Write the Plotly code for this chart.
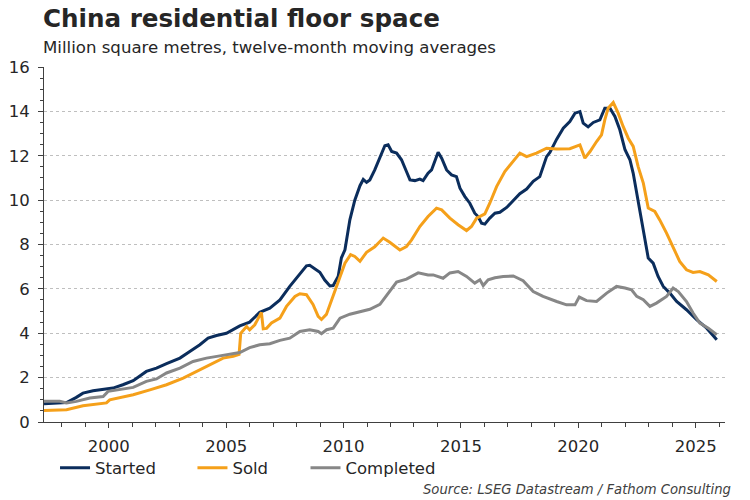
import plotly.graph_objects as go

# ---- data ----
started_x = [1997.24, 1997.7, 1998.2, 1998.6, 1998.9, 1999.33, 1999.9, 2000.18, 2000.6, 2001.04,
             2001.6, 2002.03, 2002.46, 2003.03, 2003.45, 2003.88, 2004.23, 2004.59, 2005.01, 2005.3,
             2005.58, 2006.0, 2006.43, 2006.86, 2007.29, 2007.71, 2008.14, 2008.42, 2008.56, 2008.7,
             2008.99, 2009.2, 2009.42, 2009.56, 2009.77, 2009.91, 2010.06, 2010.27, 2010.48, 2010.7,
             2010.84, 2010.98, 2011.12, 2011.33, 2011.55, 2011.76, 2011.9, 2012.05, 2012.26, 2012.47,
             2012.68, 2012.83, 2013.04, 2013.25, 2013.39, 2013.6, 2013.75, 2013.89, 2014.03, 2014.18,
             2014.39, 2014.6, 2014.81, 2014.96, 2015.17, 2015.38, 2015.59, 2015.73, 2015.88, 2016.02,
             2016.23, 2016.45, 2016.66, 2016.95, 2017.23, 2017.51, 2017.8, 2018.08, 2018.36, 2018.65,
             2018.79, 2019.08, 2019.36, 2019.64, 2019.86, 2020.07, 2020.21, 2020.42, 2020.64, 2020.92,
             2021.13, 2021.35, 2021.56, 2021.77, 2021.99, 2022.2, 2022.34, 2022.49, 2022.62, 2022.77,
             2022.98, 2023.19, 2023.4, 2023.62, 2023.9, 2024.19, 2024.61, 2025.04, 2025.47, 2025.9]
started_y = [0.82, 0.84, 0.88, 1.1, 1.3, 1.41, 1.49, 1.53, 1.68, 1.86,
             2.28, 2.43, 2.63, 2.88, 3.18, 3.48, 3.78, 3.9, 4.0, 4.15,
             4.33, 4.5, 4.94, 5.13, 5.5, 6.11, 6.7, 7.04, 7.06, 6.96,
             6.75, 6.4, 6.13, 6.15, 6.56, 7.4, 7.76, 9.11, 10.0, 10.65,
             10.93, 10.8, 10.91, 11.36, 11.96, 12.45, 12.49, 12.19, 12.12, 11.82,
             11.29, 10.91, 10.88, 10.95, 10.88, 11.21, 11.36, 11.74, 12.16, 11.89,
             11.36, 11.14, 11.06, 10.54, 10.16, 9.86, 9.41, 9.26, 8.96, 8.92,
             9.19, 9.41, 9.45, 9.67, 10.0, 10.29, 10.5, 10.85, 11.06, 11.96,
             12.15, 12.75, 13.24, 13.54, 13.92, 13.99, 13.47, 13.3, 13.5, 13.62,
             14.14, 14.14, 13.77, 13.17, 12.27, 11.82, 11.21, 10.31, 9.41, 8.51,
             7.39, 7.16, 6.56, 6.11, 5.81, 5.43, 5.06, 4.61, 4.23, 3.71]

sold_x = [1997.24, 1997.8, 1998.2, 1998.9, 1999.6, 1999.9, 2000.04, 2001.04, 2001.75, 2002.46,
          2003.17, 2003.88, 2004.44, 2004.87, 2005.3, 2005.55, 2005.62, 2005.87, 2006.0, 2006.22,
          2006.5, 2006.58, 2006.72, 2006.93, 2007.29, 2007.57, 2007.93, 2008.14, 2008.42, 2008.7,
          2008.92, 2009.06, 2009.27, 2009.56, 2009.84, 2010.06, 2010.3, 2010.48, 2010.7, 2010.98,
          2011.33, 2011.69, 2011.97, 2012.4, 2012.68, 2012.9, 2013.25, 2013.6, 2013.96, 2014.18,
          2014.53, 2014.88, 2015.24, 2015.45, 2015.67, 2016.02, 2016.23, 2016.52, 2016.87, 2017.23,
          2017.51, 2017.8, 2018.22, 2018.65, 2019.08, 2019.64, 2020.07, 2020.28, 2020.5, 2020.78,
          2020.99, 2021.13, 2021.27, 2021.49, 2021.7, 2021.91, 2022.13, 2022.34, 2022.55, 2022.77,
          2022.98, 2023.26, 2023.47, 2023.76, 2024.04, 2024.32, 2024.61, 2024.89, 2025.18, 2025.54,
          2025.9]
sold_y = [0.52, 0.54, 0.55, 0.73, 0.81, 0.86, 1.0, 1.23, 1.45, 1.68,
          1.98, 2.36, 2.66, 2.88, 2.96, 3.05, 4.0, 4.3, 4.15, 4.38,
          4.94, 4.2, 4.22, 4.46, 4.68, 5.21, 5.66, 5.78, 5.74, 5.3,
          4.76, 4.62, 4.85, 5.7, 6.5, 7.16, 7.54, 7.46, 7.24, 7.65,
          7.9, 8.29, 8.1, 7.75, 7.91, 8.21, 8.81, 9.26, 9.64, 9.56,
          9.19, 8.89, 8.63, 8.81, 9.19, 9.38, 9.86, 10.61, 11.29, 11.78,
          12.12, 11.96, 12.12, 12.34, 12.3, 12.32, 12.49, 11.89, 12.19, 12.64,
          12.94, 13.62, 14.14, 14.4, 13.92, 13.32, 12.79, 12.42, 11.51, 10.77,
          9.64, 9.49, 9.11, 8.51, 7.91, 7.24, 6.86, 6.74, 6.78, 6.63,
          6.33]

completed_x = [1997.24, 1997.91, 1998.2, 1998.62, 1999.19, 1999.76, 1999.97, 2000.47, 2001.04, 2001.6,
               2002.03, 2002.46, 2003.03, 2003.59, 2004.16, 2004.73, 2005.3, 2005.58, 2006.0, 2006.43,
               2006.86, 2007.29, 2007.71, 2008.14, 2008.56, 2008.92, 2009.06, 2009.28, 2009.56, 2009.85,
               2010.27, 2010.7, 2011.12, 2011.55, 2011.97, 2012.26, 2012.68, 2013.18, 2013.6, 2013.82,
               2014.24, 2014.53, 2014.88, 2015.24, 2015.59, 2015.81, 2015.95, 2016.16, 2016.45, 2016.8,
               2017.23, 2017.65, 2018.08, 2018.5, 2019.08, 2019.5, 2019.86, 2020.04, 2020.35, 2020.78,
               2021.21, 2021.63, 2021.99, 2022.27, 2022.49, 2022.77, 2023.05, 2023.33, 2023.76, 2024.04,
               2024.26, 2024.61, 2024.89, 2025.18, 2025.54, 2025.9]
completed_y = [0.93, 0.93, 0.86, 0.93, 1.08, 1.15, 1.38, 1.45, 1.56, 1.83,
               1.94, 2.21, 2.43, 2.73, 2.88, 2.98, 3.1, 3.13, 3.35, 3.48,
               3.53, 3.68, 3.78, 4.08, 4.16, 4.08, 3.98, 4.16, 4.23, 4.68,
               4.86, 4.98, 5.08, 5.3, 5.88, 6.31, 6.44, 6.72, 6.63, 6.63,
               6.48, 6.72, 6.78, 6.56, 6.26, 6.41, 6.15, 6.41, 6.5, 6.56,
               6.58, 6.37, 5.88, 5.66, 5.43, 5.28, 5.28, 5.63, 5.47, 5.43,
               5.81, 6.11, 6.04, 5.96, 5.66, 5.51, 5.21, 5.36, 5.66, 6.04,
               5.88, 5.43, 4.91, 4.46, 4.23, 3.93]

series_names = ["Started", "Sold", "Completed"]
series_colors = ["#0B2D5C", "#F5A01A", "#878787"]
legend_ids = ["legend", "legend2", "legend3"]
legend_x = [0.0162, 0.218, 0.384]

FONT = "DejaVu Sans, Liberation Sans, Arial, sans-serif"
TXT = "#262626"

fig = go.Figure()
for name, xs, ys, col, lg in zip(series_names,
                                 [started_x, sold_x, completed_x],
                                 [started_y, sold_y, completed_y],
                                 series_colors, legend_ids):
    fig.add_trace(go.Scatter(x=xs, y=ys, mode="lines", name=name, legend=lg,
                             line=dict(color=col, width=3)))

legend_common = dict(orientation="h", xanchor="left", y=-0.1296, yanchor="middle",
                     font=dict(size=16.5, color=TXT, family=FONT), bgcolor="rgba(0,0,0,0)")
fig.update_layout(
    width=750, height=500,
    margin=dict(l=44, r=25, t=67, b=78, autoexpand=False),
    paper_bgcolor="white", plot_bgcolor="white",
    font=dict(family=FONT, color=TXT, size=16.5),
    showlegend=True,
    legend=dict(x=legend_x[0], **legend_common),
    legend2=dict(x=legend_x[1], **legend_common),
    legend3=dict(x=legend_x[2], **legend_common),
)

fig.update_xaxes(
    range=[1997.24, 2026.25], tick0=2000, dtick=5, tickformat="d",
    ticks="outside", ticklen=5, tickcolor="#404040", ticklabelstandoff=4,
    showline=True, linecolor="#404040", linewidth=1,
    showgrid=False, zeroline=False, automargin=False,
    minor=dict(dtick=1, tick0=2000, ticks="outside", ticklen=4, tickcolor="#404040", showgrid=False),
    tickfont=dict(size=16.5, color=TXT, family=FONT),
)
fig.update_yaxes(
    range=[0, 16], dtick=2, tick0=0,
    ticks="outside", ticklen=5, tickcolor="#404040", ticklabelstandoff=5,
    showline=True, linecolor="#404040", linewidth=1,
    showgrid=True, gridcolor="#BFBFBF", griddash="dot", gridwidth=1,
    zeroline=False, automargin=False,
    minor=dict(dtick=0.5, ticks="outside", ticklen=3, tickcolor="#404040", showgrid=False),
    tickfont=dict(size=16.5, color=TXT, family=FONT),
)

fig.add_annotation(text="<b>China residential floor space</b>", xref="paper", yref="paper",
                   x=0.0, xshift=-3, y=1.0, yshift=67 - 18, xanchor="left", yanchor="middle",
                   showarrow=False, font=dict(size=24.6, color=TXT, family=FONT))
fig.add_annotation(text="Million square metres, twelve-month moving averages", xref="paper", yref="paper",
                   x=0.0, xshift=-3, y=1.0, yshift=67 - 47, xanchor="left", yanchor="middle",
                   showarrow=False, font=dict(size=16.6, color=TXT, family=FONT))
fig.add_annotation(text="<i>Source: LSEG Datastream / Fathom Consulting</i>", xref="paper", yref="paper",
                   x=1.0, xshift=8, y=0.0, yshift=-(489 - 422), xanchor="right", yanchor="middle",
                   showarrow=False, font=dict(size=13.2, color="#404040", family=FONT))

fig.write_html("out.html", config={"displayModeBar": False},
               post_script="document.body.style.margin='0px';")
